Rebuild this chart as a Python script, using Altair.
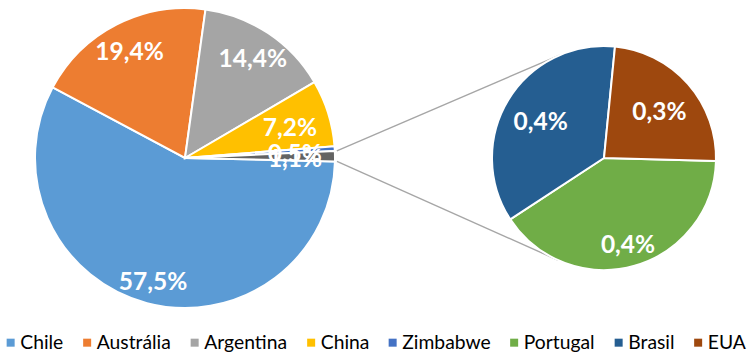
import math
import altair as alt
import pandas as pd

# ---- data ----
main_names = ["Chile", "Austrália", "Argentina", "China", "Zimbabwe", "Outros"]
main_values = [57.5, 19.4, 14.4, 7.2, 0.5, 1.1]
sec_names = ["Portugal", "Brasil", "EUA"]
sec_values = [0.44, 0.39, 0.26]
legend_names = ["Chile", "Austrália", "Argentina", "China", "Zimbabwe", "Portugal", "Brasil", "EUA"]
legend_colors = ["#5B9BD5", "#ED7D31", "#A5A5A5", "#FFC000", "#4472C4", "#70AD47", "#255E91", "#9E480E"]
other_color = "#636363"

# ---- geometry (layout) ----
C1 = (185, 158)
R1 = 150
C2 = (604, 158)
R2 = 112
A1 = math.radians(91.3)   # start angle of the main pie
A2 = math.radians(91.5)   # start angle of the secondary pie

main_df = pd.DataFrame({"name": main_names, "v": main_values, "i": range(len(main_names))})
sec_df = pd.DataFrame({"name": sec_names, "v": sec_values, "i": range(len(sec_names))})

cscale = alt.Scale(domain=legend_names + ["Outros"], range=legend_colors + [other_color])
label_expr = "replace(format(datum.v, '.1f'), '.', ',') + '%'"
FONT = "Lato"

tot1 = sum(main_values)
tot2 = sum(sec_values)
sc1 = alt.Scale(domain=[0, tot1], range=[A1, A1 + 2 * math.pi])
sc2 = alt.Scale(domain=[0, tot2], range=[A2, A2 + 2 * math.pi])
th1 = alt.Theta("v:Q", stack=True, scale=sc1)
th2 = alt.Theta("v:Q", stack=True, scale=sc2)

legend = alt.Legend(
    values=legend_names, title=None, orient="none", direction="horizontal",
    legendX=1, legendY=333, symbolType="square", symbolSize=64, symbolStrokeWidth=0,
    labelFont=FONT, labelFontSize=19.3, labelColor="#000000", labelOffset=0,
    columnPadding=13.5,
)

arc1 = alt.Chart(main_df).mark_arc(
    outerRadius=R1, stroke="white", strokeWidth=2, x=C1[0], y=C1[1]
).encode(
    theta=th1,
    color=alt.Color("name:N", scale=cscale, legend=legend),
    order=alt.Order("i:Q"),
)


def labels(df, scale, center, radius_expr):
    return alt.Chart(df).transform_window(
        cum="sum(v)", sort=[alt.SortField("i")], frame=[None, 0]
    ).transform_calculate(
        label=label_expr, mid="datum.cum - datum.v / 2", lr=radius_expr
    ).mark_text(
        x=center[0], y=center[1], dy=3.5, font=FONT, fontSize=24.5, fontWeight="bold", color="white"
    ).encode(
        theta=alt.Theta("mid:Q", scale=scale),
        radius=alt.Radius("lr:Q", scale=None),
        text="label:N",
    )


text1 = labels(main_df, sc1, C1, "datum.v < 10 ? 110 : (datum.v > 50 ? 126 : 122)")

arc2 = alt.Chart(sec_df).mark_arc(
    outerRadius=R2, stroke="white", strokeWidth=2, x=C2[0], y=C2[1]
).encode(
    theta=th2,
    color=alt.Color("name:N", scale=cscale, legend=legend),
    order=alt.Order("i:Q"),
)

text2 = labels(sec_df, sc2, C2, "datum.i == 0 ? 88 : 74")

# ---- connector lines: from the edges of the "Outros" slice, tangent to the secondary pie ----
cum = sum(main_values[:-1]) / tot1
ang_a = A1 + 2 * math.pi * cum - 2 * math.pi          # start of "Outros"
ang_b = A1                                              # end of "Outros"


def edge(a):
    return (C1[0] + (R1 + 2) * math.sin(a), C1[1] - (R1 + 2) * math.cos(a))


def tangent(p, sign):
    dx, dy = C2[0] - p[0], C2[1] - p[1]
    d = math.hypot(dx, dy)
    base = math.atan2(dy, dx)
    alpha = math.asin(R2 / d)
    L = math.sqrt(d * d - R2 * R2)
    a = base + sign * alpha
    return (p[0] + L * math.cos(a), p[1] + L * math.sin(a))


p_top = edge(ang_a)
p_bot = edge(ang_b)
q_top = tangent(p_top, -1)
q_bot = tangent(p_bot, +1)
lines_df = pd.DataFrame({
    "x": [p_top[0], p_bot[0]], "y": [p_top[1], p_bot[1]],
    "x2": [q_top[0], q_bot[0]], "y2": [q_top[1], q_bot[1]],
})
lines = alt.Chart(lines_df).mark_rule(color="#A6A6A6", strokeWidth=1.4).encode(
    x=alt.X("x:Q", scale=None, axis=None),
    y=alt.Y("y:Q", scale=None, axis=None),
    x2="x2:Q",
    y2="y2:Q",
)

chart = alt.layer(lines, arc1, text1, arc2, text2).resolve_scale(
    theta="independent"
).properties(
    width=754, height=357, autosize="none", padding=0, background="white"
).configure_view(stroke=None)

chart.save("out.html", embed_options={"renderer": "svg", "actions": False})
